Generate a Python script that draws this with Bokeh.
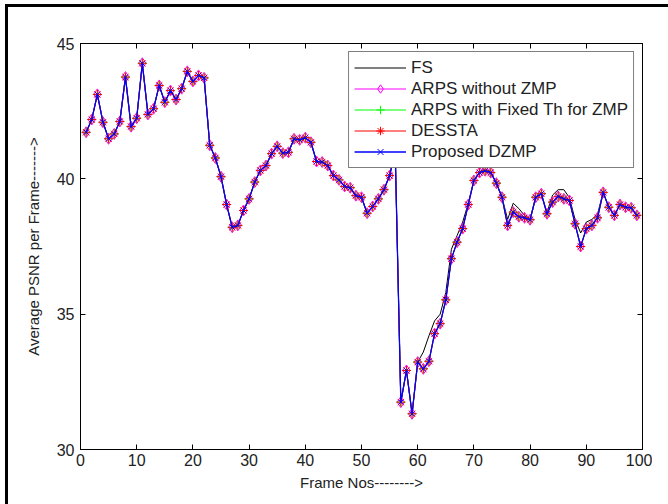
from bokeh.plotting import figure
from bokeh.models import Range1d, FixedTicker, LinearAxis, InlineStyleSheet
from bokeh.embed import file_html
from bokeh.resources import INLINE

frames = list(range(1, 100))

dzmp = [41.72, 42.19, 43.12, 42.09, 41.48, 41.66, 42.12, 43.76, 41.93, 42.24,
        44.27, 42.38, 42.59, 43.45, 42.83, 43.26, 42.93, 43.33, 43.97, 43.60,
        43.82, 43.73, 41.24, 40.77, 40.08, 39.05, 38.21, 38.28, 38.83, 39.26,
        39.88, 40.31, 40.49, 40.93, 41.20, 40.95, 40.98, 41.48, 41.44, 41.52,
        41.35, 40.64, 40.62, 40.49, 40.12, 39.96, 39.72, 39.67, 39.38, 39.32,
        38.73, 38.98, 39.26, 39.60, 40.12, 41.00, 31.75, 32.92, 31.32, 33.23,
        32.98, 33.26, 34.28, 34.65, 35.53, 37.05, 37.66, 38.16, 39.05, 39.94,
        40.23, 40.30, 40.23, 39.84, 39.32, 38.28, 38.77, 38.60, 38.56, 38.49,
        39.32, 39.45, 38.71, 39.14, 39.35, 39.26, 39.20, 38.34, 37.50, 38.16,
        38.28, 38.56, 39.50, 38.95, 38.65, 39.05, 38.95, 38.93, 38.65]

fs = [41.72, 42.19, 43.12, 42.09, 41.48, 41.66, 42.12, 43.76, 41.93, 42.24,
      44.27, 42.38, 42.59, 43.45, 42.83, 43.26, 42.93, 43.33, 43.97, 43.60,
      43.82, 43.73, 41.24, 40.77, 40.08, 39.05, 38.21, 38.28, 38.83, 39.26,
      39.88, 40.31, 40.49, 40.93, 41.20, 40.95, 40.98, 41.48, 41.44, 41.52,
      41.35, 40.64, 40.62, 40.49, 40.12, 39.96, 39.72, 39.67, 39.38, 39.32,
      38.73, 38.98, 39.26, 39.60, 40.12, 41.00, 31.75, 32.92, 31.32, 33.23,
      33.60, 34.20, 34.75, 35.00, 35.80, 37.40, 37.90, 38.40, 39.10, 39.94,
      40.23, 40.30, 40.23, 39.84, 39.32, 38.50, 39.10, 38.90, 38.65, 38.49,
      39.32, 39.45, 38.75, 39.40, 39.60, 39.60, 39.30, 38.50, 38.00, 38.40,
      38.50, 38.70, 39.50, 38.95, 38.65, 39.05, 38.95, 38.93, 38.65]

arps = list(dzmp)
arps_fixed = list(dzmp)
dessta = list(dzmp)

x_ticks = [0, 10, 20, 30, 40, 50, 60, 70, 80, 90, 100]
y_ticks = [30, 35, 40, 45]

FONT = "Liberation Sans"

p = figure(width=652, height=496, output_backend="svg", toolbar_location=None,
           x_range=Range1d(0, 100), y_range=Range1d(30, 45),
           min_border_left=80, min_border_top=43, min_border_right=10,
           min_border_bottom=47)
p.grid.visible = False
p.outline_line_color = "black"
p.outline_line_width = 1

# outer frame of the picture (top and left edges)
p.stylesheets = [InlineStyleSheet(css=(
    ":host::before { content: ''; position: fixed; left: 5px; top: 4px; "
    "width: 700px; height: 600px; border-top: 3px solid #000; "
    "border-left: 3px solid #000; pointer-events: none; z-index: 10; }"))]

p.xaxis.ticker = FixedTicker(ticks=x_ticks)
p.yaxis.ticker = FixedTicker(ticks=y_ticks)
p.xaxis.axis_label = "Frame Nos-------->"
p.yaxis.axis_label = "Average PSNR per Frame------->"
for ax in [p.xaxis[0], p.yaxis[0]]:
    ax.major_tick_in = 5
    ax.major_tick_out = 0
    ax.minor_tick_line_color = None
    ax.axis_line_color = "black"
    ax.major_tick_line_color = "black"
    ax.major_label_text_font = FONT
    ax.major_label_text_font_size = "16px"
    ax.major_label_text_color = "#222222"
    ax.axis_label_text_font = FONT
    ax.axis_label_text_font_size = "15px"
    ax.axis_label_text_font_style = "normal"
    ax.axis_label_text_color = "#222222"
p.xaxis.major_label_standoff = 4
p.xaxis.axis_label_standoff = 5
p.yaxis.major_label_standoff = 6
p.yaxis.axis_label_standoff = 12

top_axis = LinearAxis(ticker=FixedTicker(ticks=x_ticks), major_label_text_font_size="1px",
                      major_label_text_color=None, major_tick_in=5, major_tick_out=0,
                      minor_tick_line_color=None, major_label_standoff=0,
                      axis_line_color="black", major_tick_line_color="black")
right_axis = LinearAxis(ticker=FixedTicker(ticks=y_ticks), major_label_text_font_size="1px",
                        major_label_text_color=None, major_tick_in=5, major_tick_out=0,
                        minor_tick_line_color=None, major_label_standoff=0,
                        axis_line_color="black", major_tick_line_color="black")
p.add_layout(top_axis, "above")
p.add_layout(right_axis, "right")

# FS
p.line(frames, fs, line_color="black", line_width=1, legend_label="FS")
# ARPS without ZMP
p.line(frames, arps, line_color="#FF00FF", line_width=1, legend_label="ARPS without ZMP")
p.scatter(frames, arps, marker="diamond", size=11, line_color="#FF00FF", fill_alpha=0,
          line_width=1, legend_label="ARPS without ZMP")
# ARPS with fixed threshold
p.line(frames, arps_fixed, line_color="#00FF00", line_width=1,
       legend_label="ARPS with Fixed Th for ZMP")
p.scatter(frames, arps_fixed, marker="cross", size=9, line_color="#00FF00", line_width=1,
          legend_label="ARPS with Fixed Th for ZMP")
# DESSTA
p.line(frames, dessta, line_color="#FF0000", line_width=1, legend_label="DESSTA")
p.scatter(frames, dessta, marker="asterisk", size=9, line_color="#FF0000", line_width=1,
          legend_label="DESSTA")
# Proposed DZMP
p.line(frames, dzmp, line_color="#0000FF", line_width=1.3, legend_label="Proposed DZMP")
p.scatter(frames, dzmp, marker="x", size=6, line_color="#0000FF", line_width=1,
          legend_label="Proposed DZMP")

lg = p.legend[0]
lg.location = "top_right"
lg.margin = 8
lg.padding = 5
lg.spacing = 0
lg.label_height = 21
lg.glyph_height = 21
lg.glyph_width = 52
lg.label_standoff = 5
lg.label_text_font = FONT
lg.label_text_font_size = "17px"
lg.label_text_color = "#222222"
lg.border_line_color = "black"
lg.border_line_width = 1
lg.background_fill_color = "white"
lg.background_fill_alpha = 1

open("out.html", "w").write(file_html(p, INLINE))
